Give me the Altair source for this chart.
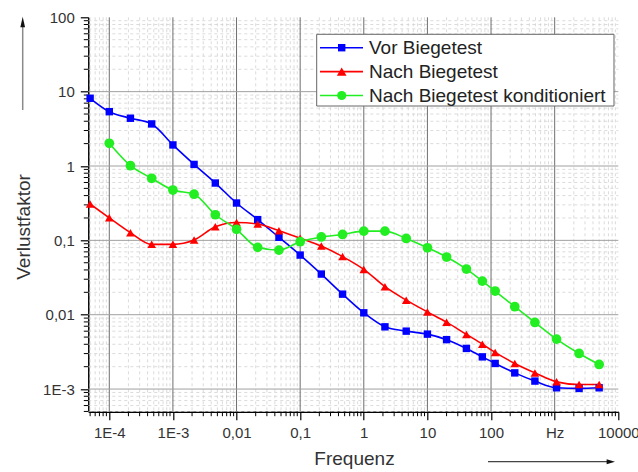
import altair as alt
import pandas as pd

# ---- measured loss factor (Verlustfaktor) over frequency ----
freq = [5e-5, 1e-4, 2.15e-4, 4.64e-4, 1e-3, 2.15e-3, 4.64e-3, 0.01, 0.0215, 0.0464,
        0.1, 0.215, 0.464, 1, 2.15, 4.64, 10, 20, 41, 73, 116, 236, 489, 1070, 2420, 5000]

vor_biegetest = [8.15, 5.38, 4.39, 3.68, 1.92, 1.05, 0.59, 0.318, 0.19, 0.11,
                 0.0634, 0.0352, 0.0189, 0.0106, 0.00687, 0.00601, 0.00548, 0.00462,
                 0.00352, 0.00271, 0.00221, 0.00165, 0.00128, 0.00104, 0.00102, 0.00104]

nach_biegetest = [0.308, 0.201, 0.127, 0.0883, 0.0883, 0.101, 0.152, 0.174, 0.166, 0.135,
                  0.107, 0.0838, 0.0605, 0.0407, 0.0238, 0.0157, 0.0109, 0.00794,
                  0.00543, 0.00402, 0.00311, 0.00221, 0.00165, 0.00125, 0.00115, 0.00115]

# conditioned series starts at the second frequency
kond_freq = freq[1:]
nach_konditioniert = [2.02, 1.01, 0.683, 0.475, 0.417, 0.221, 0.141, 0.0805, 0.074,
                      0.0958, 0.111, 0.120, 0.133, 0.133, 0.106, 0.0795, 0.0596, 0.0411,
                      0.0283, 0.0208, 0.0128, 0.00787, 0.0047, 0.00301, 0.00214]

series_names = ["Vor Biegetest", "Nach Biegetest", "Nach Biegetest konditioniert"]
series_colors = ["#0000ff", "#ff0000", "#22ee22"]
series_shapes = ["square", "triangle-up", "circle"]
series_sizes = [55, 95, 85]

x_tick_values = [1e-4, 1e-3, 0.01, 0.1, 1, 10, 100, 1000, 10000]
x_tick_labels = ["1E-4", "1E-3", "0,01", "0,1", "1", "10", "100", "Hz", "10000"]
y_tick_values = [1e-3, 0.01, 0.1, 1, 10, 100]
y_tick_labels = ["1E-3", "0,01", "0,1", "1", "10", "100"]

FONT = "Liberation Sans, Arial, sans-serif"
W, H = 530, 394.4
X_DOMAIN = [4.68e-5, 1e4]
Y_DOMAIN = [4.96e-4, 100]

rows = []
for name, xs_, ys_ in [(series_names[0], freq, vor_biegetest),
                       (series_names[1], freq, nach_biegetest),
                       (series_names[2], kond_freq, nach_konditioniert)]:
    for f, v in zip(xs_, ys_):
        rows.append({"freq": f, "value": v, "series": name})
df = pd.DataFrame(rows)

xs = alt.Scale(type="log", domain=X_DOMAIN, nice=False)
ys = alt.Scale(type="log", domain=Y_DOMAIN, nice=False)


def minor_values(lo, hi, e_lo, e_hi):
    out = []
    for e in range(e_lo, e_hi + 1):
        for m in range(2, 10):
            v = m * 10.0 ** e
            if lo <= v <= hi:
                out.append(v)
    return out


x_minor = minor_values(X_DOMAIN[0], X_DOMAIN[1], -5, 3)
y_minor = minor_values(Y_DOMAIN[0], Y_DOMAIN[1], -4, 1)
x_major_grid = x_tick_values[:-1]
y_major_grid = y_tick_values[:-1]


def label_expr(labels, offset):
    arr = "[" + ",".join("'" + s + "'" for s in labels) + "]"
    return arr + "[round(log(datum.value)/LN10)+" + str(offset) + "]"


x_axis = alt.Axis(values=x_tick_values, labelExpr=label_expr(x_tick_labels, 4),
                  grid=False, tickSize=8, tickColor="black", tickWidth=1.2,
                  domainColor="black", domainWidth=1.5,
                  labelFont=FONT, labelFontSize=15, labelColor="#333", labelPadding=6,
                  labelFlush=False, labelOverlap=False,
                  title="Frequenz", titleFont=FONT, titleFontSize=19, titleFontWeight="normal",
                  titleColor="#333", titleX=265.7, titleY=53.3, titleAlign="center",
                  titleBaseline="alphabetic")

y_axis = alt.Axis(values=y_tick_values, labelExpr=label_expr(y_tick_labels, 3),
                  grid=False, tickSize=8, tickColor="black", tickWidth=1.2,
                  domainColor="black", domainWidth=1.5,
                  labelFont=FONT, labelFontSize=15, labelColor="#333", labelPadding=6,
                  labelFlush=False, labelOverlap=False,
                  title="Verlustfaktor", titleFont=FONT, titleFontSize=19, titleFontWeight="normal",
                  titleColor="#333", titleX=-59.3, titleY=209.2, titleAngle=270,
                  titleAlign="center", titleBaseline="alphabetic")


def xq(field):
    return alt.X(field, type="quantitative", scale=xs, axis=x_axis)


def yq(field):
    return alt.Y(field, type="quantitative", scale=ys, axis=y_axis)


# grid: dashed minor lines, solid major lines
minor_x_grid = alt.Chart(pd.DataFrame({"v": x_minor})).mark_rule(
    color="#d2d2d2", strokeWidth=0.8, strokeDash=[3, 3]
).encode(x=xq("v"), y=alt.value(0), y2=alt.value(H))

minor_y_grid = alt.Chart(pd.DataFrame({"v": y_minor})).mark_rule(
    color="#d2d2d2", strokeWidth=0.8, strokeDash=[3, 3]
).encode(y=yq("v"), x=alt.value(0), x2=alt.value(W))

major_x_grid = alt.Chart(pd.DataFrame({"v": x_major_grid})).mark_rule(
    color="#6e6e6e", strokeWidth=1
).encode(x=xq("v"), y=alt.value(0), y2=alt.value(H))

major_y_grid = alt.Chart(pd.DataFrame({"v": y_major_grid})).mark_rule(
    color="#a0a0a0", strokeWidth=1
).encode(y=yq("v"), x=alt.value(0), x2=alt.value(W))

# minor tick marks on the axes
minor_x_ticks = alt.Chart(pd.DataFrame({"v": x_minor})).mark_rule(
    color="black", strokeWidth=1
).encode(x=xq("v"), y=alt.value(H), y2=alt.value(H + 4.5))

minor_y_ticks = alt.Chart(pd.DataFrame({"v": y_minor})).mark_rule(
    color="black", strokeWidth=1
).encode(y=yq("v"), x=alt.value(0), x2=alt.value(-4.5))

color_scale = alt.Scale(domain=series_names, range=series_colors)
shape_scale = alt.Scale(domain=series_names, range=series_shapes)
size_scale = alt.Scale(domain=series_names, range=series_sizes)

base = alt.Chart(df).encode(
    x=xq("freq"),
    y=yq("value"),
    color=alt.Color("series:N", scale=color_scale, legend=None),
)
lines = base.mark_line(interpolate="monotone", strokeWidth=1.6)
points = base.mark_point(filled=True, opacity=1).encode(
    shape=alt.Shape("series:N", scale=shape_scale, legend=None),
    size=alt.Size("series:N", scale=size_scale, legend=None),
)

# legend box with line + marker samples
legend_layers = [
    alt.Chart(pd.DataFrame({"k": [0]})).mark_rect(
        fill="white", stroke="#666", strokeWidth=1
    ).encode(x=alt.value(228.4), x2=alt.value(525.7), y=alt.value(17), y2=alt.value(88.7))
]
for i, (name, col, shp, sz) in enumerate(zip(series_names, series_colors, series_shapes, series_sizes)):
    ry = 30.4 + 23.9 * i
    item = pd.DataFrame({"label": [name]})
    legend_layers.append(alt.Chart(item).mark_rule(color=col, strokeWidth=1.6).encode(
        x=alt.value(231.7), x2=alt.value(274.7), y=alt.value(ry)))
    legend_layers.append(alt.Chart(item).mark_point(
        shape=shp, filled=True, color=col, size=sz, opacity=1
    ).encode(x=alt.value(253.4), y=alt.value(ry)))
    legend_layers.append(alt.Chart(item).mark_text(
        align="left", baseline="middle", font=FONT, fontSize=19, color="#222"
    ).encode(x=alt.value(280.7), y=alt.value(ry), text="label:N"))

# direction arrows next to the axis titles
one = pd.DataFrame({"k": [0]})
arrows = [
    alt.Chart(one).mark_rule(color="#8a8a8a", strokeWidth=1.5).encode(
        x=alt.value(-65.6), y=alt.value(92.7), y2=alt.value(6)),
    alt.Chart(one).mark_point(shape="M0,-1L0.45,1L-0.45,1Z", filled=True, color="#111",
                              size=110, opacity=1).encode(x=alt.value(-65.6), y=alt.value(4.7)),
    alt.Chart(one).mark_rule(color="#444", strokeWidth=1.3).encode(
        x=alt.value(399.7), x2=alt.value(520), y=alt.value(444.4)),
    alt.Chart(one).mark_point(shape="M1,0L-1,-0.6L-1,0.6Z", filled=True, color="#111",
                              size=70, opacity=1).encode(x=alt.value(522.5), y=alt.value(444.4)),
]

chart = alt.layer(
    minor_x_grid, minor_y_grid, major_x_grid, major_y_grid,
    minor_x_ticks, minor_y_ticks,
    lines, points, *legend_layers, *arrows
).properties(
    width=W, height=H,
    padding={"left": 88.3, "top": 17.3, "right": 19.7, "bottom": 60.3},
    autosize="none",
    background="white",
).configure_view(strokeWidth=0)

chart.save("out.html", embed_options={"renderer": "svg", "actions": False})
